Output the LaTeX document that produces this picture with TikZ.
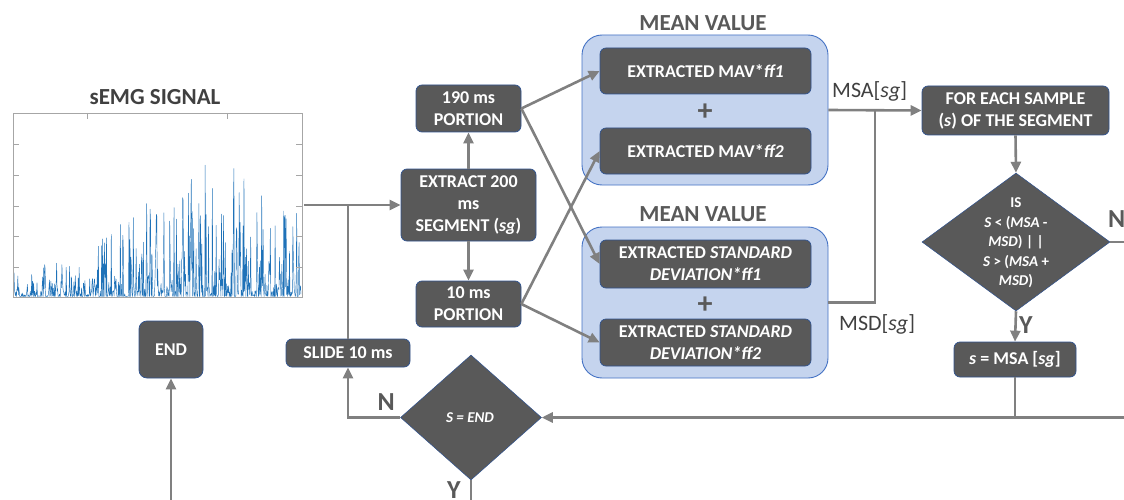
\documentclass[tikz,border=0pt]{standalone}
\usepackage{fontspec}
\setmainfont{Carlito}
\usetikzlibrary{arrows.meta,shapes.geometric,calc}
\definecolor{boxfill}{HTML}{595959}
\definecolor{boxborder}{HTML}{2F528F}
\definecolor{connc}{HTML}{808080}
\definecolor{cfill}{HTML}{C5D4EE}
\definecolor{cborder}{HTML}{4472C4}
\definecolor{txtdark}{HTML}{404040}
\definecolor{txtgray}{HTML}{595959}
\definecolor{sigblue}{HTML}{1F72B8}
\definecolor{axisgray}{HTML}{A6A6A6}
\begin{document}
\begin{tikzpicture}[x=1pt,y=-1pt,
  box/.style={draw=boxborder, line width=0.7pt, fill=boxfill, rounded corners=6pt,
    text=white, font=\bfseries\fontsize{18}{22}\selectfont, align=center, inner sep=0pt},
  container/.style={draw=cborder, line width=0.9pt, fill=cfill, rounded corners=20pt, inner sep=0pt},
  decision/.style={diamond, draw=boxborder, line width=0.5pt, fill=boxfill, inner sep=0pt},
  dtext/.style={text=white, align=center, inner sep=0pt},
  conn/.style={draw=connc, line width=2.6pt},
  arr/.style={conn, -{Triangle[length=11pt,width=10pt]}},
  title/.style={font=\bfseries\fontsize{23}{26}\selectfont, inner sep=0pt},
  yn/.style={font=\bfseries\fontsize{26}{28}\selectfont, text=txtgray, inner sep=0pt},
  lbl/.style={font=\fontsize{22}{24}\selectfont, text=txtdark, inner sep=0pt},
  plus/.style={font=\bfseries\fontsize{30}{30}\selectfont, text=txtgray, inner sep=0pt},
]
\useasboundingbox (0,0) rectangle (1124,500);

% ---- signal plot ----
\node[title, text=txtdark] (sigtitle) at (155,97) {sEMG SIGNAL};
\pgfmathsetseed{11}
\draw[sigblue, line width=0.45pt, line join=round]
  plot[domain=14:301, samples=600, variable=\x]
  (\x, {296.5 - (28 + 108*exp(-((\x-215)/100)^2))*rnd^4});
\draw[axisgray, line width=0.8pt] (13,113) rectangle (302,297);
\foreach \tx in {87,227} \draw[axisgray, line width=0.8pt] (\tx,113) -- (\tx,119);
\foreach \ty in {144,175,206,236,267} {
  \draw[axisgray, line width=0.8pt] (13,\ty) -- (19,\ty);
  \draw[axisgray, line width=0.8pt] (302,\ty) -- (296,\ty);
}

% ---- containers ----
\node[container, minimum width=246pt, minimum height=150pt] (mv1) at (705,110) {};
\node[container, minimum width=246pt, minimum height=151pt] (mv2) at (705,302.5) {};
\node[title, text=txtgray] (mvt1) at (703,23) {MEAN VALUE};
\node[title, text=txtgray] (mvt2) at (703,214) {MEAN VALUE};

% ---- boxes ----
\node[box, minimum width=135pt, minimum height=72pt] (ext) at (468.5,205) {EXTRACT 200\\ms\\SEGMENT (\textit{sg})};
\node[box, minimum width=105pt, minimum height=47pt] (p190) at (468.5,108.5) {190 ms\\PORTION};
\node[box, minimum width=105pt, minimum height=46pt] (p10) at (468.5,304) {10 ms\\PORTION};
\node[box, minimum width=211pt, minimum height=46pt] (mav1) at (705.5,71) {EXTRACTED MAV*\textit{ff1}};
\node[plus] (plus1) at (705,112) {+};
\node[box, minimum width=211pt, minimum height=46pt] (mav2) at (705.5,151) {EXTRACTED MAV*\textit{ff2}};
\node[box, minimum width=211pt, minimum height=48pt] (sd1) at (705.5,264) {EXTRACTED \textit{STANDARD}\\\textit{DEVIATION*ff1}};
\node[plus] (plus2) at (705,305) {+};
\node[box, minimum width=211pt, minimum height=47pt] (sd2) at (705.5,342.5) {EXTRACTED \textit{STANDARD}\\\textit{DEVIATION*ff2}};
\node[box, minimum width=187pt, minimum height=49pt] (fe) at (1015.5,110.5) {FOR EACH SAMPLE\\(\textit{s}) OF THE SEGMENT};
\node[decision, minimum width=188pt, minimum height=138pt] (d1) at (1016,242) {};
\node[dtext, font=\bfseries\fontsize{15}{19.5}\selectfont] (d1t) at (1016,243) {IS\\\textit{S} < (\textit{MSA} -\\\textit{MSD}) | |\\\textit{S} > (\textit{MSA} +\\\textit{MSD})};
\node[box, minimum width=122pt, minimum height=35pt] (smsa) at (1015,359.5) {\textit{s} = MSA [\textit{sg}]};
\node[decision, minimum width=141pt, minimum height=125pt] (d2) at (471,417.5) {};
\node[dtext, font=\bfseries\itshape\fontsize{15}{18}\selectfont] (d2t) at (470,417.5) {S = END};
\node[box, minimum width=124pt, minimum height=28pt] (slide) at (348,353) {SLIDE 10 ms};
\node[box, rounded corners=8pt, minimum width=64pt, minimum height=57pt] (endbox) at (171,349.5) {END};

% ---- labels ----
\node[lbl, anchor=base west] (msal) at (832,98) {MSA[\textit{sg}]};
\node[lbl, anchor=base west] (msdl) at (839,330) {MSD[\textit{sg}]};
\node[yn, anchor=base west] (n1) at (1108,227) {N};
\node[yn, anchor=base west] (y1) at (1019,333) {Y};
\node[yn, anchor=base east] (n2) at (395,410) {N};
\node[yn, anchor=base west] (y2) at (447,498) {Y};

% ---- connectors ----
\coordinate (sigout) at (304,205);
\coordinate (j1) at (348,205);
\draw[arr] (sigout) -- (ext.west);
\draw[conn] (slide.north) -- (j1);
\draw[arr] (ext.north) -- (p190.south);
\draw[arr] (ext.south) -- (p10.north);
\draw[arr] (p190.east) -- (mav1.west);
\draw[arr] (p190.east) -- (sd1.west);
\draw[arr] (p10.east) -- (mav2.west);
\draw[arr] (p10.east) -- (sd2.west);
\draw[arr] (mv1.east) -- (fe.west);
\coordinate (j2) at (875,110);
\draw[conn] (mv2.east) -| (j2);
\draw[arr] (fe.south) -- (d1.north);
\draw[arr] (d1.south) -- (smsa.north);
\coordinate (d1out) at (1128,242);
\draw[conn] (d1.east) -- (d1out);
\coordinate (ret) at (1128,417.5);
\draw[arr] (ret) -- (d2.east);
\draw[conn] (smsa.south) -- (smsa.south |- d2.east);
\draw[arr] (d2.west) -| (slide.south);
\coordinate (d2out) at (471,504);
\draw[conn] (d2.south) -- (d2out);
\coordinate (endin) at (171,504);
\draw[arr] (endin) -- (endbox.south);
\end{tikzpicture}
\end{document}
